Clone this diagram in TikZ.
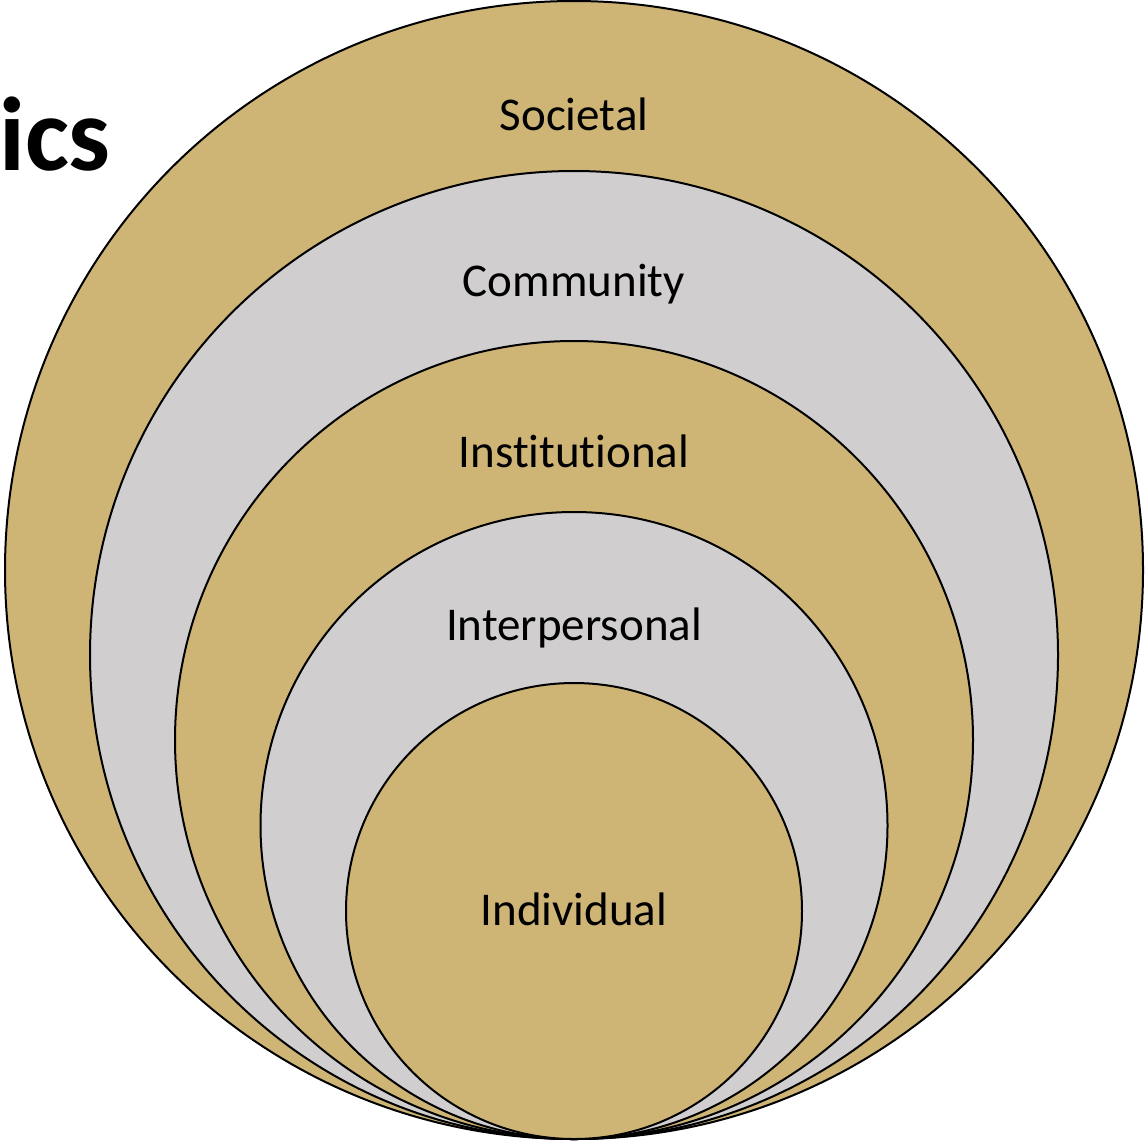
\documentclass[tikz,border=0pt]{standalone}
\usepackage{fontspec}
\setmainfont{Carlito}[Ligatures=NoCommon]
\definecolor{tan}{RGB}{206,181,117}
\definecolor{lgray}{RGB}{208,206,207}
\begin{document}
\begin{tikzpicture}[x=1pt,y=-1pt,
  ring/.style={circle,draw=black,line width=2pt,inner sep=0pt,outer sep=0pt},
  lbl/.style={anchor=base,font=\fontsize{47}{56}\selectfont,inner sep=0pt}]
\useasboundingbox (0,0) rectangle (1145,1141);
\begin{scope}
\clip (0,0) rectangle (1145,1141);
\node[ring,fill=tan,minimum size=1138pt] (soc) at (574,570) {};
\node[ring,fill=lgray,minimum size=968pt] (com) at (574,655) {};
\node[ring,fill=tan,minimum size=798pt] (ins) at (574,740) {};
\node[ring,fill=lgray,minimum size=627pt] (int) at (574,825.5) {};
\node[ring,fill=tan,minimum size=456pt] (ind) at (574,911) {};
\node[lbl] (tsoc) at (574,130) {Societal};
\node[lbl] (tcom) at (574,296) {Community};
\node[lbl] (tins) at (574,467) {Institutional};
\node[lbl] (tint) at (574,640) {Interpersonal};
\node[lbl] (tind) at (574,925) {Individual};
\node[anchor=base east,inner sep=0pt,font=\fontsize{105}{120}\selectfont\bfseries] (title) at (111,170) {ics};
\end{scope}
\end{tikzpicture}
\end{document}
